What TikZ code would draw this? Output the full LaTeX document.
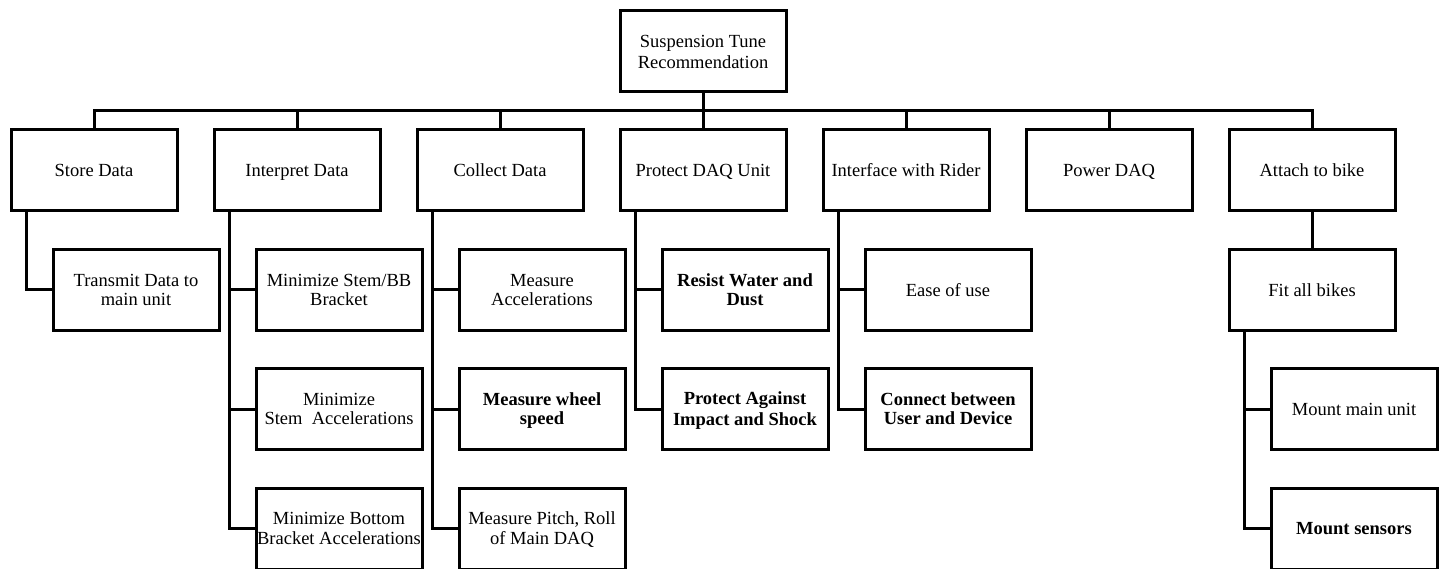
\documentclass[tikz,border=0pt]{standalone}
\usepackage{fontspec}
\setmainfont{Liberation Serif}
\newcommand\tstr{\rule[-3.6pt]{0pt}{19.5pt}}
\begin{document}
\begin{tikzpicture}[x=1pt,y=-1pt,
  box/.style={draw=black,line width=3pt,rectangle,minimum width=166pt,minimum height=81pt,inner sep=1pt,align=center,font=\fontsize{18.5}{19.5}\selectfont},
  bbox/.style={box,font=\fontsize{18.5}{19.5}\selectfont\bfseries},
  conn/.style={draw=black,line width=3pt}]
\useasboundingbox (0,0) rectangle (1446,569);
\clip (0,0) rectangle (1446,569);
% root
\node[box] (root) at (703,51.5) {\tstr Suspension Tune\\\tstr Recommendation};
% level 1
\node[box] (s1) at (94,170.5) {\tstr Store Data};
\node[box] (s2) at (297,170.5) {\tstr Interpret Data};
\node[box] (s3) at (500,170.5) {\tstr Collect Data};
\node[box] (s4) at (703,170.5) {\tstr Protect DAQ Unit};
\node[box] (s5) at (906,170.5) {\tstr Interface with Rider};
\node[box] (s6) at (1109,170.5) {\tstr Power DAQ};
\node[box] (s7) at (1312,170.5) {\tstr Attach to bike};
% level 2+
\node[box] (c11) at (136,290) {\tstr Transmit Data to\\\tstr main unit};
\node[box] (c21) at (339,290) {\tstr Minimize Stem/BB\\\tstr Bracket};
\node[box] (c22) at (339,409) {\tstr Minimize\\\tstr Stem\ \ Accelerations};
\node[box] (c23) at (339,528.5) {\tstr Minimize Bottom\\\tstr Bracket Accelerations};
\node[box] (c31) at (542,290) {\tstr Measure\\\tstr Accelerations};
\node[bbox] (c32) at (542,409) {\tstr Measure wheel\\\tstr speed};
\node[box] (c33) at (542,528.5) {\tstr Measure Pitch, Roll\\\tstr of Main DAQ};
\node[bbox] (c41) at (745,290) {\tstr Resist Water and\\\tstr Dust};
\node[bbox] (c42) at (745,409) {\tstr Protect Against\\\tstr Impact and Shock};
\node[box] (c51) at (948,290) {\tstr Ease of use};
\node[bbox] (c52) at (948,409) {\tstr Connect between\\\tstr User and Device};
\node[box] (c71) at (1312,290) {\tstr Fit all bikes};
\node[box] (c72) at (1354,409) {\tstr Mount main unit};
\node[bbox] (c73) at (1354,528.5) {\tstr Mount sensors};
% bus
\coordinate (bus) at (703,111);
\draw[conn] (root.south) -- (bus);
\foreach \n in {s1,s2,s3,s4,s5,s6,s7} \draw[conn] (bus) -| (\n.north);
% children connectors
\draw[conn] ([xshift=17pt]s1.south west) |- (c11.west);
\draw[conn] ([xshift=17pt]s2.south west) |- (c23.west);
\draw[conn] ([xshift=17pt]s2.south west) |- (c21.west);
\draw[conn] ([xshift=17pt]s2.south west) |- (c22.west);
\draw[conn] ([xshift=17pt]s3.south west) |- (c33.west);
\draw[conn] ([xshift=17pt]s3.south west) |- (c31.west);
\draw[conn] ([xshift=17pt]s3.south west) |- (c32.west);
\draw[conn] ([xshift=17pt]s4.south west) |- (c42.west);
\draw[conn] ([xshift=17pt]s4.south west) |- (c41.west);
\draw[conn] ([xshift=17pt]s5.south west) |- (c52.west);
\draw[conn] ([xshift=17pt]s5.south west) |- (c51.west);
\draw[conn] (s7.south) -- (c71.north);
\draw[conn] ([xshift=17pt]c71.south west) |- (c73.west);
\draw[conn] ([xshift=17pt]c71.south west) |- (c72.west);
\end{tikzpicture}
\end{document}
